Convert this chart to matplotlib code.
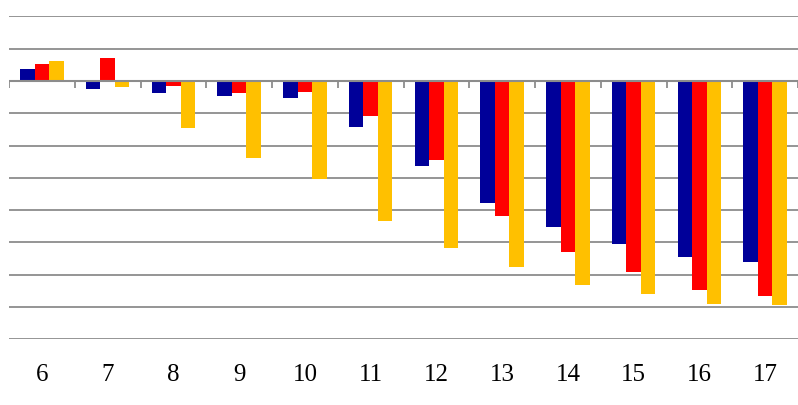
import matplotlib
matplotlib.use("Agg")
import matplotlib.pyplot as plt
import numpy as np

categories = ["6", "7", "8", "9", "10", "11", "12", "13", "14", "15", "16", "17"]
series_blue = [0.37, -0.26, -0.37, -0.46, -0.52, -1.43, -2.63, -3.77, -4.53, -5.06, -5.46, -5.62]
series_red = [0.54, 0.71, -0.16, -0.36, -0.34, -1.07, -2.46, -4.17, -5.30, -5.90, -6.46, -6.67]
series_gold = [0.61, -0.18, -1.45, -2.39, -3.04, -4.33, -5.17, -5.77, -6.32, -6.61, -6.92, -6.95]
y_gridlines = [2, 1, -1, -2, -3, -4, -5, -6, -7, -8]

colors = ["#000099", "#FF0000", "#FFC000"]
grid_color = "#8C8C8C"

fig = plt.figure(figsize=(7.98, 4.05), dpi=100)
ax = fig.add_axes([9 / 798, 65.7 / 405, 789 / 798, 322.8 / 405])

x = np.arange(len(categories))
bw = 0.22
for k, (vals, c) in enumerate(zip([series_blue, series_red, series_gold], colors)):
    ax.bar(x + (k - 1) * bw, vals, width=bw, color=c, linewidth=0, zorder=3)

ax.set_xlim(-0.5, len(categories) - 0.5)
ax.set_ylim(-8, 2)

for g in y_gridlines:
    ax.axhline(g, color=grid_color, linewidth=1.3, zorder=1)
ax.axhline(0, color=grid_color, linewidth=1.5, zorder=4)

# category boundary tick marks hanging from the zero line
bounds = np.arange(len(categories) + 1) - 0.5
ax.vlines(bounds, -0.2, 0, color=grid_color, linewidth=1.3, zorder=4)

for s in ax.spines.values():
    s.set_visible(False)
ax.set_yticks([])
ax.set_xticks(x)
ax.set_xticklabels(categories, family="Liberation Serif", fontsize=18)
ax.tick_params(axis="x", length=0, pad=18)

fig.savefig("out.png", dpi=100)
